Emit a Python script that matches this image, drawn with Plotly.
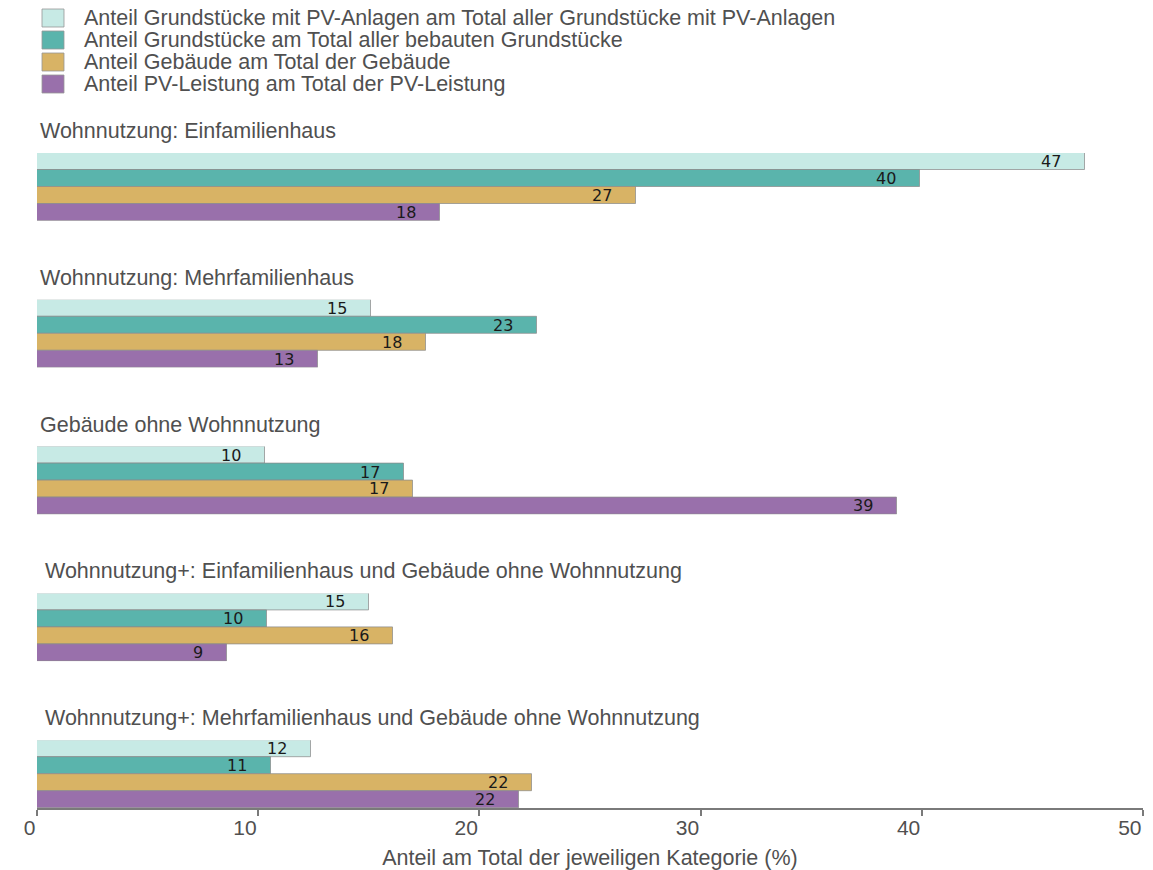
import plotly.graph_objects as go
from plotly.subplots import make_subplots

# Categories (one panel each) and series
groups = [
    "Wohnnutzung: Einfamilienhaus",
    "Wohnnutzung: Mehrfamilienhaus",
    "Gebäude ohne Wohnnutzung",
    "Wohnnutzung+: Einfamilienhaus und Gebäude ohne Wohnnutzung",
    "Wohnnutzung+: Mehrfamilienhaus und Gebäude ohne Wohnnutzung",
]
series = [
    "Anteil Grundstücke mit PV-Anlagen am Total aller Grundstücke mit PV-Anlagen",
    "Anteil Grundstücke am Total aller bebauten Grundstücke",
    "Anteil Gebäude am Total der Gebäude",
    "Anteil PV-Leistung am Total der PV-Leistung",
]

# Shares in % per category (same order as groups)
anteil_grundstuecke_pv = [47.4, 15.1, 10.3, 15.0, 12.4]
anteil_grundstuecke = [39.9, 22.6, 16.6, 10.4, 10.6]
anteil_gebaeude = [27.1, 17.6, 17.0, 16.1, 22.4]
anteil_pv_leistung = [18.2, 12.7, 38.9, 8.6, 21.8]

x_ticks = [0, 10, 20, 30, 40, 50]
x_title = "Anteil am Total der jeweiligen Kategorie (%)"

values = [anteil_grundstuecke_pv, anteil_grundstuecke, anteil_gebaeude, anteil_pv_leistung]
colors = ["#c7eae5", "#5ab4ac", "#d8b365", "#9970ab"]

# Page geometry (px)
W, H = 1153, 870
M_L, M_R, M_T, M_B = 37, 10, 153, 62
PLOT_W = W - M_L - M_R
PLOT_H = H - M_T - M_B
GAP = 79

FONT = "Liberation Sans, Arial, sans-serif"
TEXT_GREY = "#505050"
title_xshift = [1, 1, 1, 6, 6]

fig = make_subplots(rows=len(groups), cols=1, shared_xaxes=True,
                    vertical_spacing=GAP / PLOT_H)

annotations = []
for r, g in enumerate(groups, start=1):
    vals = [s[r - 1] for s in values]
    fig.add_trace(
        go.Bar(
            x=vals, y=series, orientation="h", width=1,
            marker=dict(color=colors, line=dict(color="rgba(140,140,140,0.75)", width=1)),
            showlegend=False, hovertemplate="%{y}: %{x:.1f}%<extra></extra>",
        ),
        row=r, col=1,
    )
    suffix = "" if r == 1 else str(r)
    for name, v in zip(series, vals):
        annotations.append(dict(
            x=v, y=name, xref="x" + suffix, yref="y" + suffix,
            text=f"{v:.0f}", showarrow=False, xanchor="right", yanchor="middle",
            xshift=-22, font=dict(family="DejaVu Sans", size=16, color="#1a1a1a"),
        ))
    annotations.append(dict(
        x=0, y=1, xref="paper", yref=f"y{suffix} domain", text=g, showarrow=False,
        xanchor="left", yanchor="middle", xshift=title_xshift[r - 1], yshift=22,
        font=dict(family=FONT, size=21.5, color=TEXT_GREY),
    ))
    last = r == len(groups)
    fig.update_xaxes(
        range=[0, 50], tickvals=x_ticks, showgrid=False, zeroline=False,
        showline=last, linecolor="#7a7a7a", linewidth=1.5,
        ticks="outside" if last else "", ticklen=6, tickcolor="#7a7a7a", tickwidth=1.5,
        showticklabels=last, tickfont=dict(family=FONT, size=21, color=TEXT_GREY),
        ticklabelposition="outside left", ticklabeloverflow="allow", automargin=False,
        row=r, col=1,
    )
    fig.update_yaxes(range=[3.5, -0.5], showticklabels=False, showgrid=False,
                     zeroline=False, showline=False, ticks="", automargin=False,
                     row=r, col=1)

fig.update_xaxes(title=dict(text=x_title, font=dict(family=FONT, size=21.5, color=TEXT_GREY),
                            standoff=12), row=len(groups), col=1)

# Legend drawn as swatches + labels above the panels
shapes = []
def px_to_paper_x(px):
    return (px - M_L) / PLOT_W

def px_to_paper_y(py):
    return (H - M_B - py) / PLOT_H

legend_row_px = 22
for i, (name, c) in enumerate(zip(series, colors)):
    cy = 18 + i * legend_row_px
    shapes.append(dict(
        type="rect", xref="paper", yref="paper",
        x0=px_to_paper_x(42), x1=px_to_paper_x(64),
        y0=px_to_paper_y(cy + 9), y1=px_to_paper_y(cy - 9),
        fillcolor=c, line=dict(color="rgba(150,150,150,0.8)", width=1),
    ))
    annotations.append(dict(
        x=px_to_paper_x(82), y=px_to_paper_y(cy), xref="paper", yref="paper",
        text=name, showarrow=False, xanchor="left", yanchor="middle",
        font=dict(family=FONT, size=21.5, color=TEXT_GREY),
    ))

fig.update_layout(
    width=W, height=H,
    margin=dict(l=M_L, r=M_R, t=M_T, b=M_B, autoexpand=False),
    paper_bgcolor="white", plot_bgcolor="white",
    bargap=0, showlegend=False,
    annotations=annotations, shapes=shapes,
    font=dict(family=FONT, color=TEXT_GREY),
)

fig.write_html("out.html")
